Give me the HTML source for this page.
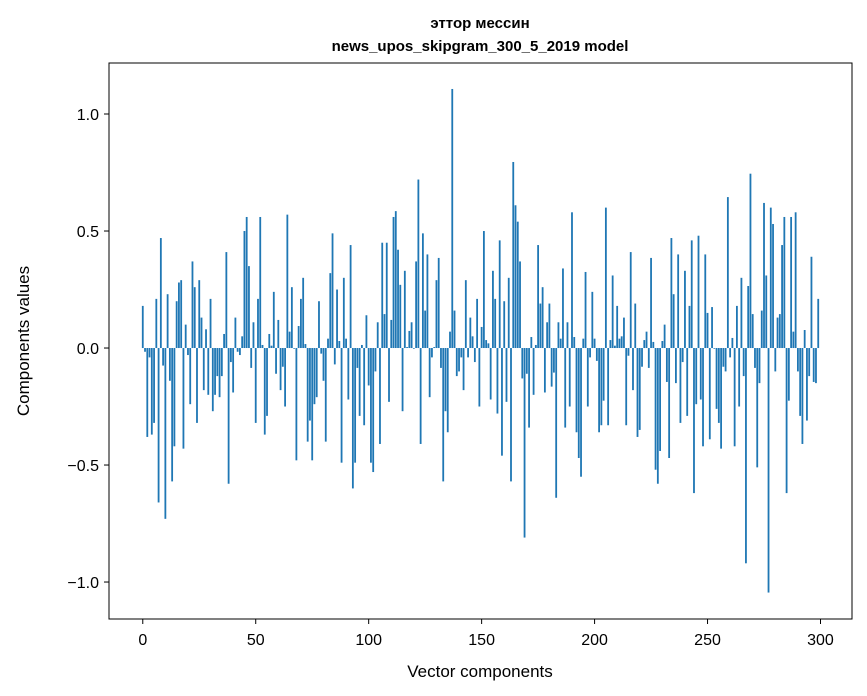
<!DOCTYPE html>
<html><head><meta charset="utf-8"><style>
body{margin:0;background:#fff;}
svg{display:block;font-family:"Liberation Sans","DejaVu Sans",sans-serif;}
</style></head><body>
<svg id="chart" width="867" height="696" viewBox="0 0 867 696">
<text x="480" y="28" text-anchor="middle" font-size="15" font-weight="bold">эттор мессин</text>
<text x="480" y="51" text-anchor="middle" font-size="15" font-weight="bold">news_upos_skipgram_300_5_2019 model</text>
<g id="bars"></g>
<g id="axes"></g>
<rect x="109" y="63" width="743" height="556" fill="none" stroke="#000" stroke-width="1"/>
<text x="480" y="677" text-anchor="middle" font-size="17">Vector components</text>
<text transform="translate(29,341) rotate(-90)" text-anchor="middle" font-size="17">Components values</text>
</svg>
<script>
const values = [
0.18,-0.016,-0.38,-0.04,-0.37,-0.32,0.21,-0.66,0.47,-0.075,
-0.73,0.23,-0.14,-0.57,-0.42,0.2,0.28,0.29,-0.43,0.1,
-0.03,-0.24,0.37,0.26,-0.32,0.29,0.13,-0.18,0.08,-0.2,
0.21,-0.27,-0.2,-0.12,-0.21,-0.12,0.06,0.41,-0.58,-0.06,
-0.19,0.13,-0.016,-0.03,0.05,0.5,0.56,0.35,-0.085,0.11,
-0.32,0.21,0.56,0.013,-0.37,-0.29,0.06,0.01,0.24,-0.11,
0.12,-0.18,-0.08,-0.25,0.57,0.07,0.26,-0.003,-0.48,0.094,
0.21,0.3,0.017,-0.4,-0.31,-0.48,-0.24,-0.21,0.2,-0.024,
-0.14,-0.4,0.04,0.32,0.49,-0.07,0.25,0.03,-0.49,0.3,
0.04,-0.22,0.44,-0.6,-0.49,-0.085,-0.29,0.013,-0.33,0.14,
-0.16,-0.49,-0.53,-0.1,0.11,-0.41,0.45,0.145,0.45,-0.23,
0.12,0.56,0.585,0.42,0.27,-0.27,0.33,0.004,0.073,0.11,
-0.003,0.37,0.72,-0.41,0.49,0.16,0.4,-0.21,-0.04,0.004,
0.29,0.385,-0.085,-0.57,-0.27,-0.36,0.07,1.107,0.16,-0.12,
-0.1,-0.04,-0.18,0.29,-0.04,0.13,0.05,-0.06,0.21,-0.25,
0.09,0.5,0.034,0.02,-0.22,0.33,0.21,-0.28,0.46,-0.46,
0.2,-0.23,0.3,-0.57,0.795,0.61,0.54,0.37,-0.13,-0.81,
-0.11,-0.34,0.047,-0.2,0.013,0.44,0.19,0.26,-0.19,0.11,
0.19,-0.165,-0.105,-0.64,0.11,0.04,0.34,-0.34,0.11,-0.25,
0.58,0.047,-0.36,-0.47,-0.55,0.04,0.325,-0.25,-0.04,0.24,
0.04,-0.055,-0.36,-0.33,-0.225,0.6,-0.33,0.034,0.31,0.01,
0.18,0.04,0.05,0.13,-0.33,-0.033,0.41,-0.18,0.19,-0.38,
-0.35,-0.08,0.034,0.07,-0.085,0.385,0.026,-0.52,-0.58,-0.44,
0.03,0.1,-0.145,-0.47,0.47,0.23,-0.15,0.4,-0.32,-0.06,
0.33,-0.29,0.18,0.46,-0.62,-0.24,0.48,-0.22,-0.42,0.4,
0.15,-0.39,0.175,-0.003,-0.26,-0.32,-0.43,-0.08,-0.1,0.645,
-0.04,0.043,-0.42,0.18,-0.25,0.3,-0.12,-0.92,0.265,0.745,
0.145,-0.085,-0.51,-0.15,0.16,0.62,0.31,-1.045,0.6,0.53,
-0.1,0.13,0.145,0.44,0.56,-0.62,-0.225,0.56,0.07,0.58,
-0.1,-0.29,-0.41,0.077,-0.31,-0.12,0.39,-0.145,-0.15,0.21
];
const xTicks = [0,50,100,150,200,250,300];
const yTicks = [-1.0,-0.5,0.0,0.5,1.0];
const yTickLabels = ["\u22121.0","\u22120.5","0.0","0.5","1.0"];

const NS = "http://www.w3.org/2000/svg";
const X0 = 109, X1 = 852, Y0 = 63, Y1 = 619;
const xMin = -14.95, xMax = values.length - 1 + 14.95;
const yMax = 1.218, yMin = -1.158;
function xs(v){ return X0 + (v - xMin) / (xMax - xMin) * (X1 - X0); }
function ys(v){ return Y0 + (yMax - v) / (yMax - yMin) * (Y1 - Y0); }
const barsG = document.getElementById('bars');
const axesG = document.getElementById('axes');
const bw = 0.8;
values.forEach((v, i) => {
  const r = document.createElementNS(NS, 'rect');
  const xl = xs(i - bw / 2), xr = xs(i + bw / 2);
  const y0 = ys(0), y1 = ys(v);
  r.setAttribute('x', xl);
  r.setAttribute('width', xr - xl);
  r.setAttribute('y', Math.min(y0, y1));
  r.setAttribute('height', Math.max(Math.abs(y1 - y0), 0.3));
  r.setAttribute('fill', '#1f77b4');
  
  
  barsG.appendChild(r);
});
xTicks.forEach(t => {
  const x = xs(t);
  const l = document.createElementNS(NS, 'line');
  l.setAttribute('x1', x); l.setAttribute('x2', x);
  l.setAttribute('y1', Y1); l.setAttribute('y2', Y1 + 5);
  l.setAttribute('stroke', '#000');
  
  
  axesG.appendChild(l);
  const tx = document.createElementNS(NS, 'text');
  tx.setAttribute('x', x); tx.setAttribute('y', Y1 + 26);
  tx.setAttribute('text-anchor', 'middle'); tx.setAttribute('font-size', '16');
  tx.textContent = String(t);
  
  
  axesG.appendChild(tx);
});
yTicks.forEach((t, k) => {
  const y = ys(t);
  const l = document.createElementNS(NS, 'line');
  l.setAttribute('x1', X0 - 5); l.setAttribute('x2', X0);
  l.setAttribute('y1', y); l.setAttribute('y2', y);
  l.setAttribute('stroke', '#000');
  
  
  axesG.appendChild(l);
  const tx = document.createElementNS(NS, 'text');
  tx.setAttribute('x', X0 - 10); tx.setAttribute('y', y + 6);
  tx.setAttribute('text-anchor', 'end'); tx.setAttribute('font-size', '16');
  tx.textContent = yTickLabels[k];
  
  
  axesG.appendChild(tx);
});
</script>
</body></html>
